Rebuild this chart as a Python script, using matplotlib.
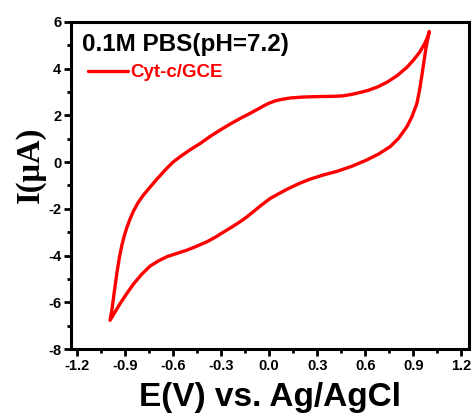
import matplotlib.pyplot as plt
from matplotlib.ticker import MultipleLocator

# Cyclic voltammogram, Cyt-c/GCE in 0.1M PBS (pH 7.2)
# upper branch, swept from +1.0 V down to -1.0 V
E_upper = [1.00, 0.99, 0.97, 0.94, 0.90, 0.86, 0.80, 0.74, 0.68, 0.62, 0.57,
           0.52, 0.46, 0.40, 0.30, 0.21, 0.13, 0.07, 0.035, 0.0, -0.03,
           -0.056, -0.12, -0.18, -0.245, -0.306, -0.37, -0.43, -0.495,
           -0.556, -0.60, -0.64, -0.70, -0.75, -0.79, -0.82, -0.848, -0.87,
           -0.889, -0.905, -0.92, -0.935, -0.952, -0.969, -0.983, -0.994]
I_upper = [5.57, 5.35, 5.05, 4.70, 4.35, 4.05, 3.70, 3.43, 3.22, 3.07, 2.98,
           2.90, 2.83, 2.81, 2.80, 2.78, 2.74, 2.67, 2.61, 2.52, 2.42,
           2.32, 2.08, 1.87, 1.62, 1.37, 1.09, 0.80, 0.52,
           0.23, 0.00, -0.27, -0.72, -1.12, -1.45, -1.75, -2.10, -2.45,
           -2.80, -3.15, -3.55, -4.05, -4.77, -5.62, -6.34, -6.77]

# lower branch, swept from -1.0 V back up to +1.0 V
E_lower = [-0.994, -0.9625, -0.931, -0.889, -0.848, -0.796, -0.744, -0.692,
           -0.639, -0.577, -0.514, -0.452, -0.389, -0.3375, -0.286, -0.233,
           -0.181, -0.14, -0.10, -0.05, 0.006, 0.058, 0.11, 0.183, 0.256,
           0.34, 0.423, 0.517, 0.61, 0.683, 0.756, 0.808, 0.86, 0.892, 0.923,
           0.94, 0.955, 0.968, 0.98, 0.992, 1.00]
I_lower = [-6.77, -6.41, -6.05, -5.62, -5.22, -4.80, -4.45, -4.23,
           -4.05, -3.91, -3.77, -3.60, -3.41, -3.22, -3.00, -2.78,
           -2.55, -2.35, -2.13, -1.85, -1.56, -1.36, -1.17, -0.93, -0.73,
           -0.55, -0.40, -0.18, 0.09, 0.34, 0.66, 1.01, 1.51, 1.94, 2.51,
           3.10, 3.75, 4.35, 4.90, 5.30, 5.57]

E = E_upper + E_lower
I = I_upper + I_lower

plt.rcParams['font.family'] = 'Liberation Sans'
plt.rcParams['font.weight'] = 'bold'

fig = plt.figure(figsize=(4.74, 4.19), dpi=100)
ax = fig.add_axes([0.150, 0.167, 0.840, 0.781])

ax.plot(E, I, color='#ff0000', lw=2.4, solid_joinstyle='round',
        solid_capstyle='round', label='Cyt-c/GCE')

ax.set_xlim(-1.2375, 1.25)
ax.set_ylim(-8, 6)
ax.xaxis.set_major_locator(MultipleLocator(0.3))
ax.xaxis.set_minor_locator(MultipleLocator(0.15))
ax.yaxis.set_major_locator(MultipleLocator(2))
ax.yaxis.set_minor_locator(MultipleLocator(1))
ax.xaxis.set_major_formatter(plt.FuncFormatter(lambda v, _: f'{v:.1f}'))
ax.yaxis.set_major_formatter(plt.FuncFormatter(lambda v, _: f'{v:.0f}'))

for s in ax.spines.values():
    s.set_linewidth(2.2)
ax.tick_params(which='major', direction='out', length=5, width=2,
               labelsize=10.5, pad=2, top=False, right=False)
ax.tick_params(which='minor', direction='out', length=3, width=2,
               top=False, right=False)
for lab in ax.get_xticklabels() + ax.get_yticklabels():
    lab.set_fontweight('bold')

ax.set_xlabel('E(V) vs. Ag/AgCl', fontsize=24, fontweight='bold', labelpad=7)
ax.set_ylabel('I(μA)', fontsize=23.5, fontweight='bold',
              family='Liberation Serif')
ax.yaxis.set_label_coords(-0.063, 0.564)

ax.text(0.027, 0.93, '0.1M PBS(pH=7.2)', transform=ax.transAxes,
        fontsize=17.5, fontweight='bold', ha='left', va='center')
ax.legend(loc='center left', bbox_to_anchor=(0.043, 0.844), frameon=False,
          handlelength=2.1, handletextpad=0.15, borderpad=0,
          borderaxespad=0, labelcolor='#ff0000',
          prop={'weight': 'bold', 'size': 13.5})

fig.savefig('out.png', dpi=100)
